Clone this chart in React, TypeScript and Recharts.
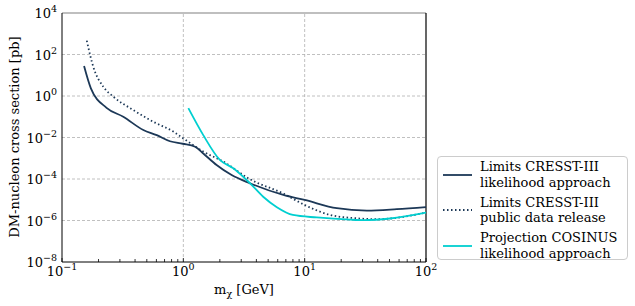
import React from "react";
import { LineChart, Line, XAxis, YAxis, ReferenceLine } from "recharts";

// CRESST-III likelihood approach (solid)
const cresstLikeX = [0.152, 0.173, 0.233, 0.32, 0.468, 0.604, 0.776, 0.99, 1.25, 1.46, 1.88, 2.5, 3.55, 6.67, 10, 18.4, 32.5, 57.4, 100];
const cresstLikeY = [27.9, 2.35, 0.27, 0.1, 0.023, 0.013, 0.0066, 0.005, 0.0036, 0.0017, 4.7e-4, 1.55e-4, 6.2e-5, 1.7e-5, 9.8e-6, 3.9e-6, 3.0e-6, 3.5e-6, 4.4e-6];

// CRESST-III public data release (dotted)
const cresstPubX = [0.16, 0.181, 0.219, 0.265, 0.387, 0.566, 0.83, 1.0, 1.46, 2.14, 3.55, 6.67, 10, 16.2, 26.8, 39.6, 65, 100];
const cresstPubY = [465, 25.8, 2.8, 0.93, 0.21, 0.057, 0.019, 0.009, 0.0021, 6.8e-4, 9.7e-5, 2.0e-5, 5.6e-6, 1.85e-6, 1.28e-6, 1.15e-6, 1.5e-6, 2.4e-6];

// COSINUS projection (cyan)
const cosinusX = [1.1, 1.46, 2.0, 2.58, 3.55, 4.55, 5.9, 8.0, 12.6, 23.7, 30.6, 50.5, 100];
const cosinusY = [0.26, 0.013, 8.3e-4, 3.3e-4, 6.2e-5, 1.4e-5, 4.4e-6, 1.85e-6, 1.4e-6, 1.1e-6, 1.05e-6, 1.25e-6, 2.4e-6];

const xTicks = [0.1, 0.2, 0.3, 0.4, 0.5, 0.6, 0.7, 0.8, 0.9, 1, 2, 3, 4, 5, 6, 7, 8, 9, 10, 20, 30, 40, 50, 60, 70, 80, 90, 100];
const yTicks = [1e-8, 1e-6, 1e-4, 1e-2, 1, 1e2, 1e4];
const xGrid = [1, 10];
const yGrid = [1e-6, 1e-4, 1e-2, 1, 1e2];

const legendItems = [
  { lines: ["Limits CRESST-III", "likelihood approach"], color: "#1c3857", dash: undefined as string | undefined },
  { lines: ["Limits CRESST-III", "public data release"], color: "#1c3857", dash: "1.5 2.5" },
  { lines: ["Projection COSINUS", "likelihood approach"], color: "#00cfd0", dash: undefined },
];

const zip = (xs: number[], ys: number[]) => xs.map((x, i) => ({ x, y: ys[i] }));

const FONT = "DejaVu Serif";
const NAVY = "#1c3857";
const CYAN = "#00cfd0";

const isPow10 = (v: number) => Math.abs(Math.log10(v) - Math.round(Math.log10(v))) < 1e-9;
const expStr = (v: number) => {
  const e = Math.round(Math.log10(v));
  return e < 0 ? "\u2212" + Math.abs(e) : String(e);
};

const XTick = (props: any) => {
  const { x, y, payload } = props;
  const v = payload.value;
  const major = isPow10(v);
  return (
    <g>
      <line x1={x} x2={x} y1={y} y2={y - (major ? 4 : 3)} stroke="#000" strokeWidth={0.8} />
      {major && (
        <text x={x} y={y + 14} textAnchor="middle" fontFamily={FONT} fontSize={13} fill="#000">
          10
          <tspan dy={-6} fontSize={9.5}>{expStr(v)}</tspan>
        </text>
      )}
    </g>
  );
};

const YTick = (props: any) => {
  const { x, y, payload } = props;
  return (
    <text x={x - 5} y={y + 5} textAnchor="end" fontFamily={FONT} fontSize={13} fill="#000">
      10
      <tspan dy={-6} fontSize={9.5}>{expStr(payload.value)}</tspan>
    </text>
  );
};

const LegendBox = () => (
  <div
    style={{
      position: "absolute",
      left: 437,
      top: 156,
      border: "1px solid #cccccc",
      borderRadius: 4,
      background: "#fff",
      width: 191,
      height: 104,
      boxSizing: "border-box",
      padding: "2px 0 0 4px",
      fontFamily: FONT,
      fontSize: 13,
      lineHeight: "15.7px",
      color: "#000",
    }}
  >
    {legendItems.map((it, i) => (
      <div key={i} style={{ display: "flex", alignItems: "center", marginBottom: 4.3 }}>
        <svg width={38} height={10} style={{ flex: "none" }}>
          <line x1={1} x2={30} y1={5} y2={5} stroke={it.color} strokeWidth={1.8} strokeDasharray={it.dash} />
        </svg>
        <div>
          {it.lines.map((l, j) => (
            <div key={j}>{l}</div>
          ))}
        </div>
      </div>
    ))}
  </div>
);

export default function App() {
  return (
    <div style={{ position: "absolute", left: 0, top: 0, width: 635, height: 306, background: "#fff" }}>
      <LineChart width={635} height={306} margin={{ top: 13, right: 209, left: 0, bottom: 0 }}>
        <XAxis
          type="number"
          dataKey="x"
          scale="log"
          domain={[0.1, 100]}
          allowDataOverflow
          ticks={xTicks}
          interval={0}
          tick={<XTick />}
          tickSize={0}
          tickMargin={0}
          tickLine={false}
          height={44}
          stroke="#000"
          label={{
            content: () => (
              <text x={244} y={294} textAnchor="middle" fontFamily={FONT} fontSize={13} fill="#000">
                m
                <tspan dy={3} fontSize={9.5}>χ</tspan>
                <tspan dy={-3}>{"  [GeV]"}</tspan>
              </text>
            ),
          }}
        />
        <YAxis
          type="number"
          dataKey="y"
          scale="log"
          domain={[1e-8, 1e4]}
          allowDataOverflow
          ticks={yTicks}
          interval={0}
          tick={<YTick />}
          tickSize={0}
          tickMargin={0}
          tickLine={false}
          width={62}
          stroke="#000"
          label={{
            content: () => (
              <text
                x={14}
                y={137}
                transform="rotate(-90 14 137)"
                textAnchor="middle"
                dominantBaseline="central"
                fontFamily={FONT}
                fontSize={13}
                fill="#000"
              >
                DM-nucleon cross section [pb]
              </text>
            ),
          }}
        />
        {xGrid.map((v) => (
          <ReferenceLine key={"gx" + v} x={v} stroke="#b0b0b0" strokeDasharray="3 2" strokeWidth={0.8} />
        ))}
        {yGrid.map((v) => (
          <ReferenceLine key={"gy" + v} y={v} stroke="#b0b0b0" strokeDasharray="3 2" strokeWidth={0.8} />
        ))}
        <ReferenceLine y={1e4} stroke="#808080" strokeWidth={1.2} />
        <ReferenceLine x={100} stroke="#000" strokeWidth={1.2} />
        <Line
          data={zip(cresstLikeX, cresstLikeY)}
          dataKey="y"
          type="monotone"
          stroke={NAVY}
          strokeWidth={1.8}
          dot={false}
          isAnimationActive={false}
        />
        <Line
          data={zip(cresstPubX, cresstPubY)}
          dataKey="y"
          type="monotone"
          stroke={NAVY}
          strokeWidth={1.8}
          strokeDasharray="1.5 2.5"
          dot={false}
          isAnimationActive={false}
        />
        <Line
          data={zip(cosinusX, cosinusY)}
          dataKey="y"
          type="monotone"
          stroke={CYAN}
          strokeWidth={1.8}
          dot={false}
          isAnimationActive={false}
        />
      </LineChart>
      <LegendBox />
    </div>
  );
}
